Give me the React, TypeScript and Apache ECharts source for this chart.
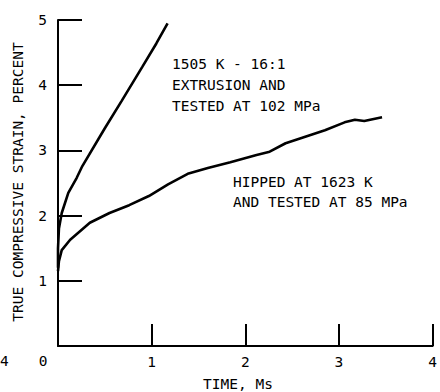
import React, { useEffect, useRef } from "react";
import * as echarts from "echarts";

const extrusionCurve: [number, number][] = [
  [0, 1.2], [0, 1.5], [0.01, 1.8], [0.04, 2.04], [0.11, 2.35], [0.2, 2.58], [0.26, 2.76],
  [0.5, 3.34], [0.68, 3.76], [0.9, 4.28], [1.05, 4.64], [1.17, 4.95],
];

const hippedCurve: [number, number][] = [
  [0, 1.15], [0.01, 1.3], [0.04, 1.47], [0.13, 1.63], [0.34, 1.89], [0.55, 2.04],
  [0.76, 2.16], [0.97, 2.3], [1.175, 2.48], [1.385, 2.64], [1.6, 2.73], [1.84, 2.82],
  [2.12, 2.93], [2.26, 2.98], [2.43, 3.11], [2.64, 3.21], [2.85, 3.31], [3.06, 3.43],
  [3.17, 3.47], [3.27, 3.45], [3.46, 3.51],
];

const xTicks = [0, 1, 2, 3, 4];
const yTicks = [0, 1, 2, 3, 4, 5];

const annotationExtrusion = ["1505 K - 16:1", "EXTRUSION AND", "TESTED AT 102 MPa"];
const annotationHipped = ["HIPPED AT 1623 K", "AND TESTED AT 85 MPa"];

const yTitle = "TRUE COMPRESSIVE STRAIN, PERCENT";
const xTitle = "TIME, Ms";

const FONT = "'DejaVu Sans Mono', monospace";

export default function App() {
  const ref = useRef<HTMLDivElement>(null);
  useEffect(() => {
    if (!ref.current) return;
    const chart = echarts.init(ref.current, null, { renderer: "svg" });
    const textStyle = (s: string) => ({ text: s, font: `14.5px ${FONT}`, fill: "#000" });
    chart.setOption({
      animation: false,
      backgroundColor: "#fff",
      grid: { left: 58, right: 1, top: 20, bottom: 46, containLabel: false },
      xAxis: {
        type: "value",
        min: xTicks[0],
        max: xTicks[xTicks.length - 1],
        interval: 1,
        axisLine: { show: true, lineStyle: { color: "#000", width: 2 } },
        axisTick: { show: true, inside: true, length: 22, lineStyle: { color: "#000", width: 2 } },
        axisLabel: {
          margin: 8,
          color: "#000",
          fontFamily: FONT,
          fontSize: 14.5,
          formatter: (v: number) => (v === 0 ? "" : String(v)),
        },
        splitLine: { show: false },
      },
      yAxis: {
        type: "value",
        min: yTicks[0],
        max: yTicks[yTicks.length - 1],
        interval: 1,
        axisLine: { show: true, lineStyle: { color: "#000", width: 2 } },
        axisTick: { show: true, inside: true, length: 24, lineStyle: { color: "#000", width: 2 } },
        axisLabel: {
          margin: 11,
          color: "#000",
          fontFamily: FONT,
          fontSize: 14.5,
          formatter: (v: number) => (v === 0 ? "" : String(v)),
        },
        splitLine: { show: false },
      },
      series: [
        {
          type: "line",
          data: extrusionCurve,
          showSymbol: false,
          lineStyle: { color: "#000", width: 2.6 },
        },
        {
          type: "line",
          data: hippedCurve,
          showSymbol: false,
          lineStyle: { color: "#000", width: 2.6 },
        },
      ],
      graphic: [
        {
          type: "text",
          x: 18,
          y: 182,
          rotation: Math.PI / 2,
          style: { ...textStyle(yTitle), align: "center", verticalAlign: "middle" },
        },
        {
          type: "text",
          x: 238,
          y: 384,
          style: { ...textStyle(xTitle), align: "center", verticalAlign: "middle" },
        },
        {
          type: "text",
          x: 43,
          y: 361,
          style: { ...textStyle("0"), align: "center", verticalAlign: "middle" },
        },
        {
          type: "text",
          x: 0,
          y: 361,
          style: { ...textStyle("4"), align: "left", verticalAlign: "middle" },
        },
        ...annotationExtrusion.map((s, i) => ({
          type: "text",
          x: 172,
          y: 64 + i * 21,
          style: { ...textStyle(s), align: "left", verticalAlign: "middle" },
        })),
        ...annotationHipped.map((s, i) => ({
          type: "text",
          x: 233,
          y: 182 + i * 20,
          style: { ...textStyle(s), align: "left", verticalAlign: "middle" },
        })),
      ],
    });
    return () => chart.dispose();
  }, []);
  return <div ref={ref} style={{ width: 440, height: 392, position: "absolute", left: 0, top: 0 }} />;
}
